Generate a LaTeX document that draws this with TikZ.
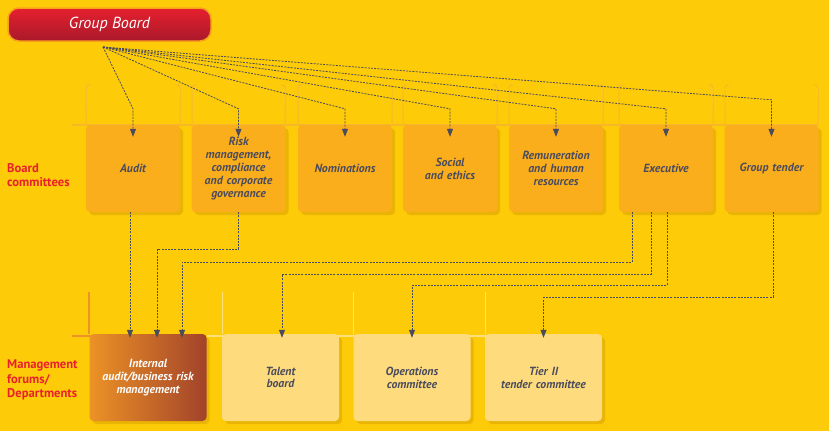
\documentclass[tikz,border=0pt]{standalone}
\usepackage{fontspec}
\setmainfont{PT Sans}
\usetikzlibrary{arrows.meta,shadows}
\definecolor{bg}{HTML}{FECB08}
\definecolor{tabfill}{HTML}{FDD22A}
\definecolor{tabline}{HTML}{F8B728}
\definecolor{lowline}{HTML}{FEE07E}
\definecolor{upbox}{HTML}{FBAE1B}
\definecolor{lowbox}{HTML}{FEDC7E}
\definecolor{ink}{HTML}{4A4B5C}
\definecolor{redlab}{HTML}{E8202E}
\definecolor{shad}{HTML}{D9A200}
\definecolor{gbtop}{HTML}{E6202E}
\definecolor{gbbot}{HTML}{A9192A}
\definecolor{gbedge}{HTML}{F7A01C}
\definecolor{iaL}{HTML}{EC9226}
\definecolor{iaR}{HTML}{A2432A}
\begin{document}
\begin{tikzpicture}[x=1pt,y=-1pt,
  boxshadow/.style={drop shadow={shadow xshift=3pt,shadow yshift=-3pt,fill=shad,opacity=.55}},
  comm/.style={rounded corners=4pt, fill=upbox, minimum width=94pt, minimum height=87pt,
    text width=90pt, align=center, inner sep=2pt, text=ink,
    font=\bfseries\itshape\fontsize{11.8}{12.8}\selectfont, boxshadow},
  forum/.style={comm, fill=lowbox, minimum width=117pt, text width=112pt},
  redlabel/.style={anchor=west, align=left, text=redlab, inner sep=0pt,
    font=\bfseries\fontsize{12.6}{14.5}\selectfont},
  conn/.style={draw=ink, line width=0.8pt, dash pattern=on 2pt off 1.2pt,
    -{Triangle[width=6pt,length=8pt]}},
  tab/.style={draw=tabline, line width=1pt, fill=tabfill},
  ltab/.style={draw=lowline, line width=1pt},
]
\useasboundingbox (0,0) rectangle (829,431);
\fill[bg] (0,0) rectangle (829,431);

% decorative tabs behind the committee row
\foreach \l/\r in {86/180,192/285,298/392,403/497,509/603,619/713,725/818}{
  \draw[tab, rounded corners=3pt] (\l,125) -- (\l,85) -- (\l+1,85) (\r-1,85) -- (\r,85) -- (\r,125);
}
\draw[tabline, line width=2pt] (72,125) -- (818,125);

% decorative tabs behind the forums row
\draw[iaL, line width=1.5pt] (89,292) -- (89,334);
\draw[iaL, line width=2pt] (72,336) -- (95,336);
\foreach \l in {222,353,485}{
  \draw[ltab] (\l,292) -- (\l,334);
}
\draw[lowline, line width=2pt] (207,336) -- (490,336);

% Group board
\node[rounded corners=11pt, draw=gbedge, line width=1.5pt, top color=gbtop, bottom color=gbbot,
  minimum width=203pt, minimum height=33pt, text=white,
  font=\itshape\fontsize{16}{18}\selectfont] (gb) at (109.5,24.5) {Group Board};
\coordinate (src) at (103,47);

% committees
\node[comm] (audit) at (133,168.5) {Audit};
\node[comm] (risk)  at (238.5,168.5) {Risk\\management,\\compliance\\and corporate\\governance};
\node[comm] (nom)   at (345,168.5) {Nominations};
\node[comm] (soc)   at (450,168.5) {Social\\and ethics};
\node[comm] (rem)   at (556,168.5) {Remuneration\\and human\\resources};
\node[comm] (exec)  at (666,168.5) {Executive};
\node[comm] (gt)    at (771.5,168.5) {Group tender};

% forums
\node[forum, fill=none, left color=iaL, right color=iaR, text=white] (ia) at (148,377.5)
  {Internal\\audit/business risk\\management};
\node[forum] (tal) at (280.5,377.5) {Talent\\board};
\node[forum] (ops) at (412,377.5) {Operations\\committee};
\node[forum] (tier) at (543.5,377.5) {Tier II\\tender committee};

% labels
\node[redlabel] (lab1) at (7,175) {Board\\committees};
\node[redlabel] (lab2) at (7,380) {Management\\forums/\\Departments};

% Group board to committees
\foreach \n in {audit,risk,nom,soc,rem,exec}{
  \draw[conn] (src) -- ([yshift=16pt]\n.north) -- ([yshift=-12pt]\n.north);
}
\draw[conn] (src) -- ([yshift=25pt]gt.north) -- ([yshift=-12pt]gt.north);

% committees to forums
\draw[conn] ([xshift=-3pt]audit.south) -- ([xshift=-18pt,yshift=-4pt]ia.north);
\draw[conn] (risk.south) -- ++(0,-37pt) -| ([xshift=9pt,yshift=-4pt]ia.north);
\draw[conn] ([xshift=-34pt]exec.south) -- ++(0,-50pt) -| ([xshift=34pt,yshift=-4pt]ia.north);
\draw[conn] ([xshift=-15pt]exec.south) -- ++(0,-62pt) -| ([xshift=1.5pt,yshift=-4pt]tal.north);
\draw[conn] ([xshift=1pt]exec.south) -- ++(0,-73pt) -| ([yshift=-4pt]ops.north);
\draw[conn] ([xshift=1.5pt]gt.south) -- ++(0,-85pt) -| ([yshift=-4pt]tier.north);
\end{tikzpicture}
\end{document}
